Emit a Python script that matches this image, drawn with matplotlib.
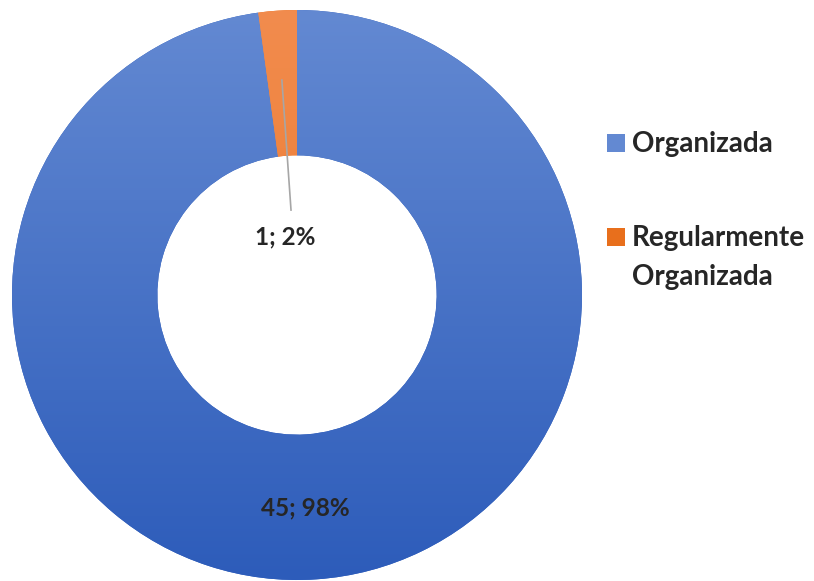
import numpy as np
import matplotlib
matplotlib.use("Agg")
import matplotlib.pyplot as plt
from matplotlib.colors import LinearSegmentedColormap
from matplotlib.patches import Rectangle

# data
categories = ["Organizada", "Regularmente\nOrganizada"]
counts = [45, 1]
pcts = [98, 2]
top_colors = ["#6389D2", "#F28C4E"]
bottom_colors = ["#2D5CBA", "#E86F1C"]

plt.rcParams['font.family'] = ['Lato', 'DejaVu Sans']

fig = plt.figure(figsize=(8.14, 5.81), dpi=100)
W, H = 814, 581
cx, cy, R = 297, 295, 285
ax = fig.add_axes([(cx - R) / W, (H - cy - R) / H, 2 * R / W, 2 * R / H])
ax.set_xlim(-1, 1)
ax.set_ylim(-1, 1)
ax.set_aspect('equal')
ax.axis('off')

wedges, _ = ax.pie(counts, startangle=90, counterclock=False, radius=1,
                   colors=bottom_colors, wedgeprops=dict(width=0.51, linewidth=0))

# vertical gradient in each slice
grad = np.linspace(0, 1, 256).reshape(-1, 1)
for w, c0, c1 in zip(wedges, top_colors, bottom_colors):
    cmap = LinearSegmentedColormap.from_list("g", [c1, c0])
    im = ax.imshow(grad, cmap=cmap, extent=[-1, 1, -1, 1], origin='lower',
                   aspect='auto', zorder=2)
    im.set_clip_path(w)
ax.set_xlim(-1, 1)
ax.set_ylim(-1, 1)

# data labels
lab_style = dict(fontsize=17.5, fontweight='bold', color='#262626',
                 ha='center', va='center', zorder=5)
ax.text(0.028, -0.747, f"{counts[0]}; {pcts[0]}%", **lab_style)
ax.text(-0.042, 0.204, f"{counts[1]}; {pcts[1]}%", **lab_style)
ax.plot([-0.053, -0.021], [0.754, 0.298], color='#A6A6A6', lw=1.2, zorder=4)

# legend
leg_y = [143, 237]
for lab, col, y in zip(categories, [top_colors[0], bottom_colors[1]], leg_y):
    fig.patches.append(Rectangle((607 / W, (H - y - 9) / H), 18 / W, 18 / H,
                                 transform=fig.transFigure, facecolor=col,
                                 edgecolor='none'))
    fig.text(632 / W, (H - y + 12) / H, lab, fontsize=20, fontweight='bold',
             color='#262626', ha='left', va='top', linespacing=1.6)

fig.savefig("out.png", dpi=100)
